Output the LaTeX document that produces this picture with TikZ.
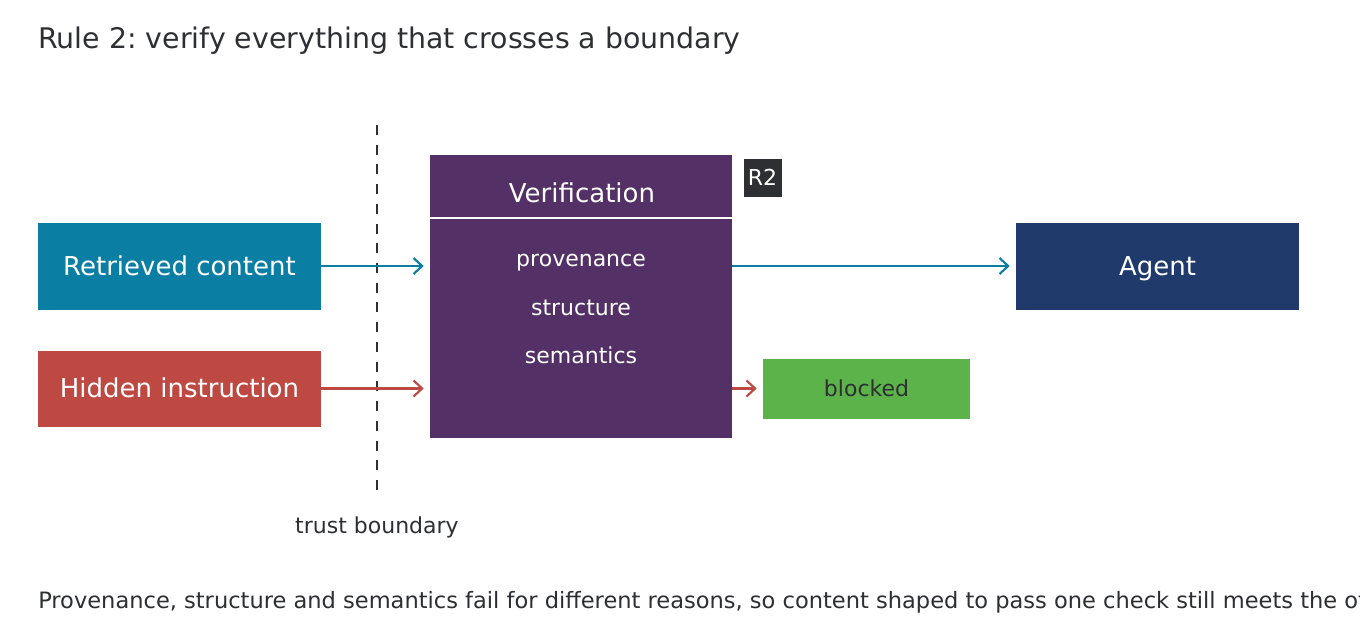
\documentclass[tikz,border=0pt]{standalone}
\usepackage{fontspec}
\setmainfont{DejaVu Sans}
\usetikzlibrary{arrows.meta}
\frenchspacing
\definecolor{cInk}{HTML}{2D2F33}
\definecolor{cTeal}{HTML}{0A7FA3}
\definecolor{cRed}{HTML}{BE4842}
\definecolor{cPurple}{HTML}{533166}
\definecolor{cNavy}{HTML}{1F3A6B}
\definecolor{cGreen}{HTML}{5CB34A}
\tikzset{
  bigbox/.style={inner sep=0pt, text height=14.2pt, text depth=0pt, align=center, font=\fontsize{19.5pt}{23pt}\selectfont},
  smallbox/.style={inner sep=0pt, text height=12pt, text depth=0pt, align=center, font=\fontsize{16.5pt}{20pt}\selectfont},
  bigtext/.style={font=\fontsize{19.5pt}{23pt}\selectfont},
  smalltext/.style={font=\fontsize{16.5pt}{20pt}\selectfont},
  flow/.style={line width=1.6pt, -{Straight Barb[length=6.5pt,width=12pt,line width=1.6pt]}},
  label/.style={inner sep=0pt, anchor=base},
}
\begin{document}
\begin{tikzpicture}[x=0.75pt,y=-0.75pt]
\useasboundingbox (0,0) rectangle (1360,642);
\fill[white] (0,0) rectangle (1360,642);
% title
\node[label, anchor=base west, text=cInk, font=\fontsize{21.3pt}{25pt}\selectfont] (title) at (38,49) {Rule 2: verify everything that crosses a boundary};
% boxes
\node[bigbox, fill=cTeal, text=white, minimum width=283*0.75pt, minimum height=87*0.75pt] (ret) at (179.5,266) {Retrieved content};
\node[bigbox, fill=cRed, text=white, minimum width=283*0.75pt, minimum height=76*0.75pt] (hid) at (179.5,388.5) {Hidden instruction};
\node[bigbox, fill=cNavy, text=white, minimum width=283*0.75pt, minimum height=87*0.75pt] (agent) at (1157.5,266) {Agent};
\node[fill=cPurple, inner sep=0pt, minimum width=302*0.75pt, minimum height=283*0.75pt] (ver) at (581,296) {};
\node[smallbox, fill=cGreen, text=cInk, minimum width=207*0.75pt, minimum height=60*0.75pt] (blk) at (866.5,388.5) {blocked};
\node[smallbox, fill=cInk, text=white, minimum width=38*0.75pt, minimum height=38*0.75pt] (r2) at (762.5,177.5) {R2};
% verification content
\node[label, bigtext, text=white] (vhead) at (582,202) {Verification};
\draw[white, line width=1.5pt] ([yshift=-63.5*0.75pt]ver.north west) -- ([yshift=-63.5*0.75pt]ver.north east);
\node[label, smalltext, text=white] (prov) at (581,266) {provenance};
\node[label, smalltext, text=white] (struc) at (581,315) {structure};
\node[label, smalltext, text=white] (sem) at (581,363) {semantics};
% trust boundary
\coordinate (tbtop) at (377,125);
\coordinate (tbbot) at (377,490);
\draw[cInk, line width=2.1pt, dash pattern=on 7.5pt off 7.29pt] (tbtop) -- (tbbot);
\node[label, smalltext, text=cInk] (tblabel) at (377,533) {trust boundary};
% connectors
\draw[flow, cTeal, shorten >=4.5pt] (ret.east) -- (ret.east -| ver.west);
\draw[flow, cRed, shorten >=4.5pt] (hid.east) -- (hid.east -| ver.west);
\draw[flow, cTeal, shorten >=4.5pt] (ret.east -| ver.east) -- (agent.west);
\draw[flow, cRed, shorten >=4.5pt] (hid.east -| ver.east) -- (hid.east -| blk.west);
% footer
\node[label, anchor=base west, text=cInk, font=\fontsize{16.9pt}{20pt}\selectfont] (foot) at (38,608) {Provenance, structure and semantics fail for different reasons, so content shaped to pass one check still meets the other two.};
\end{tikzpicture}
\end{document}
